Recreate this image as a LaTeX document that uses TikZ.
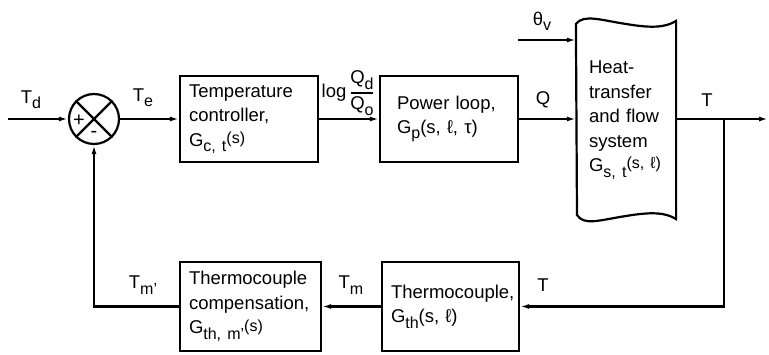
\documentclass[tikz,border=0pt]{standalone}
\usepackage{fontspec}
\setmainfont{Liberation Sans}
\usetikzlibrary{arrows.meta}
\newcommand{\dn}[1]{\raisebox{-0.55ex}{\fontsize{16}{16}\selectfont #1}}
\newcommand{\up}[1]{\raisebox{0.3ex}{\fontsize{16}{16}\selectfont #1}}
\begin{document}
\begin{tikzpicture}[x=1pt,y=-1pt,
  line width=2.2pt,
  every node/.style={font=\fontsize{18.5}{24.5}\selectfont},
  blk/.style={draw, rectangle, line width=2.2pt, align=left, inner xsep=9pt},
  arr/.style={-{Latex[length=9pt,width=5pt]}},
  lbl/.style={inner sep=0pt}]
\useasboundingbox (0,0) rectangle (769,355);

% summing junction
\node[circle, draw, minimum size=50pt, inner sep=0pt] (sum) at (94,119) {};
\draw (sum.north west) -- (sum.south east);
\draw (sum.north east) -- (sum.south west);
\node[lbl, font=\fontsize{20}{20}\selectfont] (plus) at (79,121) {+};
\node[lbl, font=\fontsize{20}{20}\selectfont] (minus) at (94,134) {-};

\coordinate (in) at (8,119);
\draw[arr] (in) -- (sum.west);
\node[lbl] (td) at (31,100) {T\dn{d}};

% temperature controller
\node[blk, minimum width=138pt, minimum height=86pt, text width=120pt] (tc) at (249,119)
  {Temperature\\controller,\\G\dn{c, t}\up{(s)}};
\draw[arr] (sum.east) -- (tc.west);
\node[lbl] (te) at (143,98) {T\dn{e}};

% power loop
\node[blk, minimum width=138pt, minimum height=86pt, text width=104pt, inner xsep=17pt] (pl) at (449,119)
  {Power loop,\\G\dn{p}(s, ℓ, τ)};
\draw[arr] (tc.east) -- (pl.west);
\node[lbl] (lg) at (334,93) {log};
\node[lbl] (qd) at (362,80) {Q\dn{d}};
\node[lbl] (qo) at (362,106) {Q\dn{o}};
\draw[line width=1.4pt] (351,93) -- (373,93);

% heat transfer and flow system
\node[minimum width=98pt, minimum height=196pt, inner sep=0pt] (hs) at (626,120) {};
\draw
  (hs.north west) ++(0,3)
  .. controls (584,14) and (600,20) .. (626,24)
  .. controls (650,28) and (665,28) .. (hs.north east)
  -- (hs.south east)
  .. controls (665,212) and (650,212) .. (626,216)
  .. controls (600,220) and (584,226) .. (577,215)
  -- cycle;
\node[lbl, align=left, text width=85pt, anchor=west] (hst) at (588,120)
  {Heat-\\transfer\\and flow\\system\\G\dn{s, t}\up{(s, ℓ)}};
\draw[arr] (pl.east) -- (hs.west |- pl.east);
\node[lbl] (q) at (543,100) {Q};
\coordinate (thv) at (518,40);
\draw[arr] (thv) -- (hs.west |- thv);
\node[lbl] (thetav) at (542,21) {θ\dn{v}};

% output
\coordinate (out) at (768,119);
\coordinate (br) at (724,119);
\draw[arr] (hs.east |- out) -- (out);
\node[lbl] (tout) at (707,100) {T};

% thermocouple
\node[blk, minimum width=137pt, minimum height=89pt, text width=119pt] (th) at (450.5,306.5)
  {Thermocouple,\\G\dn{th}(s, ℓ)};
\draw[arr] (br) |- (th.east);
\node[lbl] (tfb) at (543,285) {T};

% compensation
\node[blk, minimum width=141pt, minimum height=89pt, text width=123pt] (cm) at (250.5,306.5)
  {Thermocouple\\compensation,\\G\dn{th, m'}\up{(s)}};
\draw[arr] (th.west) -- (cm.east);
\node[lbl] (tm) at (351,285) {T\dn{m}};
\draw[arr] (cm.west) -| (sum.south);
\node[lbl] (tmp) at (143,285) {T\dn{m'}};
\end{tikzpicture}
\end{document}
